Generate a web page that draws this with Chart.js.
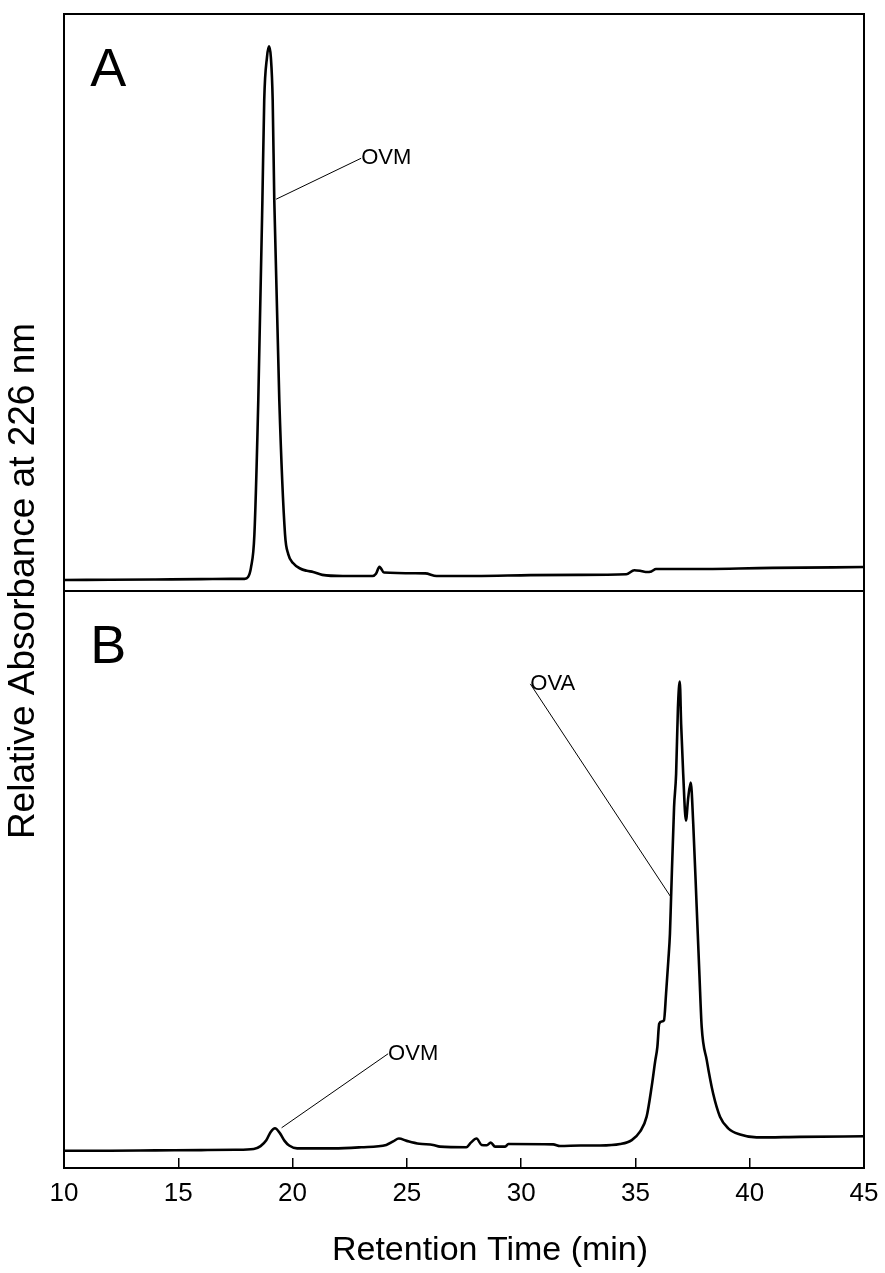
<!DOCTYPE html>
<html>
<head>
<meta charset="utf-8">
<title>HPLC chromatograms</title>
<script src="https://cdn.jsdelivr.net/npm/chart.js@4.4.1/dist/chart.umd.min.js"></script>
<style>
  html, body { margin: 0; padding: 0; background: #fff; }
  canvas { display: block; }
</style>
</head>
<body>
<canvas id="chromatogram" width="885" height="1273"></canvas>
<script>
// retention time ticks (min)
const xTicks = [10, 15, 20, 25, 30, 35, 40, 45];

// panel A trace: retention time (min) and relative absorbance
const timesA = [10, 12, 14, 16, 17.3, 17.9, 18.05, 18.18, 18.33, 18.5, 18.68, 18.76, 18.88, 18.97,
  19.05, 19.13, 19.2, 19.42, 19.67, 19.81, 20.03, 20.33, 20.62, 20.9, 21.3, 22.2, 23.5, 23.65,
  23.8, 24.0, 25.8, 26.3, 28.0, 30.4, 32.5, 34.6, 34.95, 35.2, 35.45, 35.7, 35.9, 37.0, 41.0, 45.0];
const absA = [1.9, 1.95, 2.0, 2.05, 2.1, 2.1, 2.4, 4.05, 9.8, 33.0, 67.7, 85.1, 92.5, 94.4,
  92.5, 85.1, 67.7, 33.0, 9.8, 6.4, 4.8, 3.9, 3.5, 3.3, 2.8, 2.6, 2.6, 3.0,
  4.2, 3.2, 3.05, 2.6, 2.6, 2.75, 2.8, 2.9, 3.6, 3.5, 3.3, 3.4, 3.8, 3.8, 4.0, 4.15];

// panel B trace
const timesB = [10, 12, 14, 16, 17.5, 18.3, 18.6, 18.85, 19.05, 19.23, 19.45, 19.65, 19.85, 20.2,
  21.8, 23.0, 24.1, 24.4, 24.65, 25.0, 25.55, 26.15, 26.45, 27.6, 27.8, 28.05, 28.27, 28.5,
  28.67, 28.86, 29.3, 29.44, 31.4, 31.7, 32.6, 33.45, 34.33, 34.84, 35.2, 35.49, 35.71, 35.86,
  35.96, 36.04, 36.15, 36.25, 36.34, 36.44, 36.51, 36.56, 36.69, 36.78, 36.86, 36.94, 37.0,
  37.09, 37.21, 37.31, 37.42, 37.53, 37.68, 37.8, 37.9, 38.12, 38.4, 38.7, 39.06, 39.58, 40.3,
  42.2, 45.0];
const absB = [3.0, 3.0, 3.05, 3.1, 3.15, 3.3, 3.8, 4.8, 6.3, 6.9, 6.0, 4.7, 3.9, 3.4,
  3.4, 3.6, 4.0, 4.6, 5.1, 4.7, 4.2, 4.0, 3.7, 3.6, 4.4, 5.1, 4.0, 3.95,
  4.4, 3.7, 3.7, 4.15, 4.1, 3.8, 3.9, 3.9, 4.15, 4.84, 6.3, 8.9, 14.1, 18.4,
  21.0, 25.0, 25.4, 25.6, 30.2, 36.0, 40.6, 46.9, 62.5, 68.3, 79.8, 84.3, 76.9,
  68.3, 60.2, 64.2, 66.8, 59.6, 45.2, 33.5, 24.4, 18.7, 12.9, 8.9, 6.87, 5.8, 5.3,
  5.4, 5.5];

// peak callouts: label, panel axis, text anchor and pointer end in data units
const callouts = [
  { text: 'OVM', axis: 'yA', at: [23.0, 75.0], to: [19.28, 67.9] },
  { text: 'OVA', axis: 'yB', at: [30.4, 83.9], to: [36.56, 46.9] },
  { text: 'OVM', axis: 'yB', at: [24.18, 19.8], to: [19.52, 6.97] }
];
const panelLetters = [
  { text: 'A', axis: 'yA', at: [11.15, 87.5] },
  { text: 'B', axis: 'yB', at: [11.15, 87.5] }
];

const FONT = "'Liberation Sans', Arial, sans-serif";

function toPoints(xs, ys) {
  return xs.map((x, i) => ({ x: x, y: ys[i] }));
}

// box around each panel
const framePlugin = {
  id: 'frame',
  afterDraw(chart) {
    const { ctx, chartArea } = chart;
    ctx.save();
    ctx.strokeStyle = '#000';
    ctx.lineWidth = 2;
    ['yA', 'yB'].forEach(id => {
      const s = chart.scales[id];
      ctx.strokeRect(chartArea.left, s.top, chartArea.right - chartArea.left, s.bottom - s.top);
    });
    ctx.restore();
  }
};

const calloutPlugin = {
  id: 'callouts',
  afterDraw(chart) {
    const ctx = chart.ctx;
    const x = chart.scales.x;
    ctx.save();
    ctx.fillStyle = '#000';
    ctx.strokeStyle = '#000';
    ctx.lineWidth = 1;
    ctx.font = '22px ' + FONT;
    ctx.textAlign = 'left';
    ctx.textBaseline = 'middle';
    callouts.forEach(c => {
      const y = chart.scales[c.axis];
      const tx = x.getPixelForValue(c.at[0]);
      const ty = y.getPixelForValue(c.at[1]);
      ctx.beginPath();
      ctx.moveTo(tx, ty);
      ctx.lineTo(x.getPixelForValue(c.to[0]), y.getPixelForValue(c.to[1]));
      ctx.stroke();
      ctx.fillText(c.text, tx, ty);
    });
    ctx.font = '54px ' + FONT;
    ctx.textBaseline = 'alphabetic';
    panelLetters.forEach(p => {
      const y = chart.scales[p.axis];
      ctx.fillText(p.text, x.getPixelForValue(p.at[0]), y.getPixelForValue(p.at[1]));
    });
    // x axis title
    ctx.font = '34px ' + FONT;
    ctx.textAlign = 'center';
    ctx.textBaseline = 'middle';
    ctx.fillText('Retention Time (min)', 490, x.bottom - 22);
    // shared y axis title
    ctx.translate(24, 581);
    ctx.rotate(-Math.PI / 2);
    ctx.font = '37px ' + FONT;
    ctx.fillText('Relative Absorbance at 226 nm', 0, 0);
    ctx.restore();
  }
};

const panelAxis = {
  type: 'linear',
  position: 'left',
  stack: 'panels',
  stackWeight: 1,
  min: 0,
  max: 100,
  ticks: { display: false },
  grid: { display: false },
  border: { display: false },
  afterFit: s => { s.width = 64; }
};

const traceStyle = {
  borderColor: '#000',
  borderWidth: 2.6,
  pointRadius: 0,
  fill: false,
  cubicInterpolationMode: 'monotone'
};

new Chart(document.getElementById('chromatogram'), {
  type: 'line',
  data: {
    datasets: [
      Object.assign({ label: 'B', data: toPoints(timesB, absB), yAxisID: 'yB' }, traceStyle),
      Object.assign({ label: 'A', data: toPoints(timesA, absA), yAxisID: 'yA' }, traceStyle)
    ]
  },
  options: {
    responsive: false,
    animation: false,
    layout: { padding: { top: 14, right: 21, bottom: 0, left: 0 } },
    plugins: { legend: { display: false }, tooltip: { enabled: false } },
    scales: {
      x: {
        type: 'linear',
        min: 10,
        max: 45,
        afterBuildTicks: s => { s.ticks = xTicks.map(v => ({ value: v })); },
        grid: { drawOnChartArea: false, drawTicks: true, tickLength: -10, color: '#000', lineWidth: 1.5 },
        border: { display: true, color: '#000', width: 2 },
        ticks: { font: { family: FONT, size: 26 }, color: '#000', padding: 20, maxRotation: 0, autoSkip: false },
        title: { display: false },
        afterFit: s => {
          s.height = 105;
          s.paddingLeft = 0;
          s.paddingRight = 0;
        }
      },
      yB: Object.assign({}, panelAxis),
      yA: Object.assign({}, panelAxis)
    }
  },
  plugins: [framePlugin, calloutPlugin]
});
</script>
</body>
</html>
